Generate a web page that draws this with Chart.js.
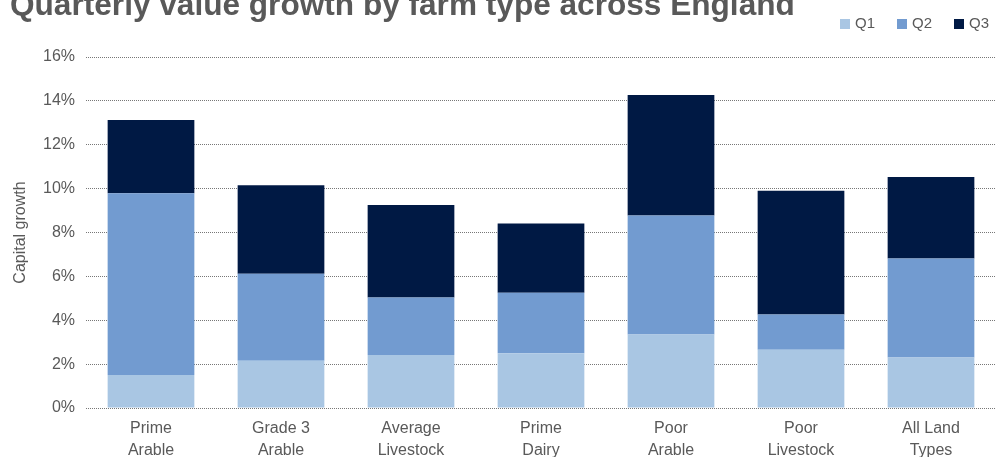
<!DOCTYPE html>
<html>
<head>
<meta charset="utf-8">
<script src="https://cdn.jsdelivr.net/npm/chart.js@4/dist/chart.umd.min.js"></script>
<style>
  html, body { margin: 0; padding: 0; background: #ffffff; }
  #wrap { width: 1004px; height: 457px; position: relative; }
</style>
</head>
<body>
<div id="wrap"><canvas id="c" width="1004" height="457"></canvas></div>
<script>
const chartTitle = 'Quarterly value growth by farm type across England';
const yAxisTitle = 'Capital growth';
const categories = [
  ['Prime', 'Arable'],
  ['Grade 3', 'Arable'],
  ['Average', 'Livestock'],
  ['Prime', 'Dairy'],
  ['Poor', 'Arable'],
  ['Poor', 'Livestock'],
  ['All Land', 'Types']
];
const seriesNames = ['Q1', 'Q2', 'Q3'];
const q1Values = [1.50, 2.15, 2.42, 2.50, 3.35, 2.66, 2.30];
const q2Values = [8.29, 3.97, 2.62, 2.75, 5.43, 1.60, 4.52];
const q3Values = [3.34, 4.03, 4.21, 3.16, 5.49, 5.64, 3.71];
const yTickLabels = ['0%', '2%', '4%', '6%', '8%', '10%', '12%', '14%', '16%'];

const seriesColors = ['#A9C6E3', '#729BD0', '#001944'];
const textColor = '#595959';
const fontFamily = '"Liberation Sans", Arial, Helvetica, sans-serif';

const titlePlugin = {
  id: 'titlePlugin',
  afterDraw(chart) {
    const ctx = chart.ctx;
    ctx.save();
    ctx.font = 'bold 31.6px ' + fontFamily;
    ctx.fillStyle = textColor;
    ctx.textAlign = 'left';
    ctx.textBaseline = 'alphabetic';
    ctx.fillText(chartTitle, 10, 15);
    ctx.restore();
  }
};

const legendPlugin = {
  id: 'legendPlugin',
  afterDraw(chart) {
    const ctx = chart.ctx;
    ctx.save();
    ctx.font = '15px ' + fontFamily;
    ctx.textAlign = 'left';
    ctx.textBaseline = 'middle';
    const startX = 840, step = 57, cy = 24, box = 10;
    chart.data.datasets.forEach((ds, i) => {
      const x = startX + i * step;
      ctx.fillStyle = ds.backgroundColor;
      ctx.fillRect(x, cy - box / 2, box, box);
      ctx.fillStyle = textColor;
      ctx.fillText(ds.label, x + box + 5, cy);
    });
    ctx.restore();
  }
};

const valueSets = [q1Values, q2Values, q3Values];

new Chart(document.getElementById('c'), {
  type: 'bar',
  data: {
    labels: categories,
    datasets: seriesNames.map((name, i) => ({
      label: name,
      data: valueSets[i],
      backgroundColor: seriesColors[i],
      borderWidth: 0,
      categoryPercentage: 1.0,
      barPercentage: 0.667
    }))
  },
  options: {
    responsive: false,
    animation: false,
    devicePixelRatio: 1,
    layout: { padding: { top: 57, right: 8, left: 0, bottom: 0 } },
    plugins: {
      legend: { display: false },
      title: { display: false },
      tooltip: { enabled: false }
    },
    scales: {
      x: {
        stacked: true,
        grid: { display: false, drawTicks: false },
        border: { display: false },
        ticks: {
          color: textColor,
          font: { family: fontFamily, size: 16, lineHeight: 1.375 },
          padding: 10,
          maxRotation: 0,
          autoSkip: false
        },
        afterFit(scale) { scale.height = 49; }
      },
      y: {
        stacked: true,
        min: 0,
        max: 16,
        grid: { color: '#777777', lineWidth: 1, drawTicks: false },
        border: { display: false, dash: [1, 1] },
        ticks: {
          stepSize: 2,
          color: textColor,
          font: { family: fontFamily, size: 16 },
          padding: 11,
          callback: (v) => yTickLabels[Math.round(v / 2)]
        },
        title: {
          display: true,
          text: yAxisTitle,
          color: textColor,
          font: { family: fontFamily, size: 16 },
          padding: { top: 11, bottom: 0 }
        },
        afterFit(scale) { scale.width = 86; }
      }
    }
  },
  plugins: [titlePlugin, legendPlugin]
});
</script>
</body>
</html>
